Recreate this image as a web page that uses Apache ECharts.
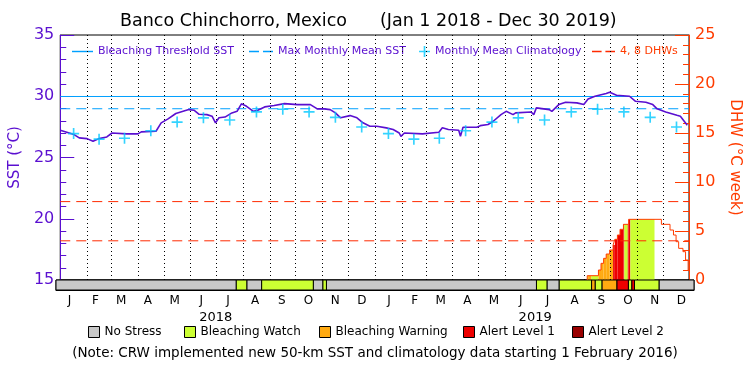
<!DOCTYPE html>
<html><head><meta charset="utf-8">
<script src="https://cdn.jsdelivr.net/npm/echarts@6/dist/echarts.min.js"></script>
<style>html,body{margin:0;padding:0;background:#fff}#c{width:750px;height:375px}</style>
</head><body><div id="c"></div>
<script>
// ---- data (x = day index counted from Jan 1 2018) ----
const sstDays = [0,16,22,31,38,45,54,60,77,90,94,111,117,125,134,149,155,161,170,176,180,184,191,199,205,210,216,224,229,237,248,260,275,290,298,306,313,319,325,336,344,351,359,367,378,386,393,395,399,420,439,443,450,462,464,467,483,487,496,502,511,517,525,528,546,549,552,567,570,578,586,599,607,612,620,633,637,645,660,667,679,687,692,702,715,719,727];
const sstValues = [27.22,26.87,26.6,26.54,26.32,26.54,26.68,27.0,26.93,26.93,27.09,27.14,27.83,28.15,28.59,28.91,28.86,28.53,28.5,28.37,27.83,28.24,28.3,28.64,28.77,29.38,29.18,28.77,28.86,29.13,29.24,29.4,29.32,29.32,28.97,28.97,28.91,28.64,28.24,28.42,28.24,27.83,27.55,27.55,27.42,27.28,27.0,26.73,27.0,26.93,27.06,27.42,27.28,27.22,26.73,27.47,27.47,27.6,27.69,27.96,28.5,28.77,28.5,28.64,28.72,28.5,29.05,28.91,28.77,29.32,29.51,29.46,29.32,29.78,30.0,30.22,30.33,30.08,30.0,29.59,29.51,29.32,28.97,28.72,28.45,28.37,27.63];
const monthLetters = ['J','F','M','A','M','J','J','A','S','O','N','D'];
const climValues = [26.95,26.5,26.57,27.18,27.89,28.24,28.06,28.72,28.94,28.72,28.28,27.49];
const years = [2018, 2019];
const mmmSST = 28.98;
const thresholdSST = 29.98;
const dhwLevels = [4, 8];
const dhwStart = [611,624,627,630,633,637,641,643,646,649,653,659,697,707,711,714,717,722,725,728];
const dhwValues = [0.44,1.02,1.7,2.21,2.65,3.06,3.57,4.15,4.59,5.17,5.68,6.19,5.68,5.1,4.59,3.91,3.23,2.89,2.04,1.02];
const stressStart = [0,206,218,235,294,305,309,549,561,575,612,616,624,641,654,658,661,689];
const stressEnd   = [206,218,235,294,305,309,549,561,575,612,616,624,641,654,658,661,689,729];
const stressLevel = [0,1,0,1,0,1,0,1,0,1,2,1,2,3,1,3,1,0];
const levelNames = ['No Stress','Bleaching Watch','Bleaching Warning','Alert Level 1','Alert Level 2'];
const endDay = 729;

// ---- styles ----
const levelColors = ['#c8c8c8','#ccff33','#ffaa11','#ee0000','#990000'];
const PURPLE = '#5a0fd0', ORANGE = '#ff3c00', CYAN = '#00c8ff', BLUE = '#00a0ff', RED = '#ff2a00';
const FONT = 'DejaVu Sans';

function dayOf(y, m, d) { return (Date.UTC(y, m, d) - Date.UTC(2018, 0, 1)) / 864e5; }
const monthStarts = [];
for (let i = 0; i <= 24; i++) monthStarts.push(dayOf(2018 + Math.floor(i / 12), i % 12, 1));
const monthMids = [];
for (let i = 0; i < 24; i++) monthMids.push((monthStarts[i] + monthStarts[i + 1]) / 2);
const yearMids = years.map(y => (dayOf(y, 0, 1) + dayOf(y + 1, 0, 1)) / 2);
const gridLines = monthStarts.filter(d => d > 0 && d < endDay);

const sstData = sstDays.map((d, i) => [d, sstValues[i]]);
const climData = monthMids.map((d, i) => [d, climValues[i % 12]]);

const dhwLine = [[dhwStart[0], 0]].concat(dhwStart.map((d, i) => [d, dhwValues[i]]), [[endDay, dhwValues[dhwValues.length - 1]]]);
const dhwFill = [];
dhwStart.forEach((s, i) => {
  const e = i + 1 < dhwStart.length ? dhwStart[i + 1] : endDay;
  stressStart.forEach((ss, j) => {
    const a = Math.max(s, ss), b = Math.min(e, stressEnd[j]);
    if (b > a && stressLevel[j] > 0) dhwFill.push([a, b, dhwValues[i], stressLevel[j]]);
  });
});

const plusPath = 'path://M8.5,0h3v8.5h8.5v3h-8.5v8.5h-3v-8.5h-8.5v-3h8.5z';
const solidIcon = 'path://M0,0h22v1.5h-22z';
const dashIcon = 'path://M0,0h10v1.5h-10z M14,0h10v1.5h-10z';

const stressSeries = levelNames.map((name, lv) => ({
  type: 'custom', name: name, xAxisIndex: 1, yAxisIndex: 2,
  itemStyle: { color: levelColors[lv] },
  silent: true,
  data: stressStart.map((s, j) => [s, stressEnd[j], stressLevel[j]]).filter(r => r[2] === lv),
  encode: { x: [0, 1] },
  renderItem: function (params, api) {
    const p0 = api.coord([api.value(0), 1]);
    const p1 = api.coord([api.value(1), 0]);
    return { type: 'rect', shape: { x: p0[0], y: p0[1], width: p1[0] - p0[0], height: p1[1] - p0[1] },
      style: { fill: levelColors[lv], stroke: '#000', lineWidth: 1 } };
  }
}));

const topLegend = (name, icon, left, w, color) => ({
  data: [{ name: name, icon: icon }], left: left, top: 46, padding: 0, itemWidth: w, itemHeight: 12, selectedMode: false,
  textStyle: { color: color, fontSize: 11, fontFamily: FONT }
});
const stressLegend = (i, left) => ({
  data: [levelNames[i]], left: left, top: 326, padding: 0, itemWidth: 11, itemHeight: 11, icon: 'rect',
  selectedMode: false, itemStyle: { borderColor: '#000', borderWidth: 1 },
  textStyle: { color: '#000', fontSize: 12, fontFamily: FONT }
});
const dhwRefLine = v => ({ type: 'line', name: '4, 8 DHWs', xAxisIndex: 0, yAxisIndex: 1, symbol: 'none', silent: true, z: 3,
  itemStyle: { color: RED }, lineStyle: { color: RED, width: 1, type: [10, 6] }, data: [[0, v], [endDay, v]] });

const chart = echarts.init(document.getElementById('c'));
chart.setOption({
  animation: false,
  textStyle: { fontFamily: FONT },
  title: [
    { text: 'Banco Chinchorro, Mexico', left: 120, top: 12, padding: 0, textStyle: { fontSize: 17.5, fontWeight: 'normal', color: '#000', fontFamily: FONT } },
    { text: '(Jan 1 2018 - Dec 30 2019)', left: 380, top: 12, padding: 0, textStyle: { fontSize: 17.5, fontWeight: 'normal', color: '#000', fontFamily: FONT } },
    { text: '(Note: CRW implemented new 50-km SST and climatology data starting 1 February 2016)', left: 'center', top: 346, padding: 0, textStyle: { fontSize: 13.5, fontWeight: 'normal', color: '#000', fontFamily: FONT } }
  ],
  legend: [
    topLegend('Bleaching Threshold SST', solidIcon, 72, 21, PURPLE),
    topLegend('Max Monthly Mean SST', dashIcon, 249, 24, PURPLE),
    topLegend('Monthly Mean Climatology', plusPath, 419, 11, PURPLE),
    topLegend('4, 8 DHWs', dashIcon, 592, 23, ORANGE),
    stressLegend(0, 88), stressLegend(1, 184), stressLegend(2, 319), stressLegend(3, 463), stressLegend(4, 572)
  ],
  grid: [
    { left: 56, right: 56, top: 35, height: 245, show: true, borderColor: '#000', borderWidth: 1, backgroundColor: 'transparent' },
    { left: 56, right: 56, top: 280, height: 10, show: true, borderColor: '#000', borderWidth: 1, backgroundColor: 'transparent' }
  ],
  xAxis: [
    { type: 'value', gridIndex: 0, min: 0, max: endDay, axisLine: { show: false }, axisTick: { show: false }, axisLabel: { show: false }, splitLine: { show: false } },
    { type: 'value', gridIndex: 1, min: 0, max: endDay, axisLine: { show: true, lineStyle: { color: '#000' } }, axisTick: { show: false }, splitLine: { show: false },
      axisLabel: { customValues: monthMids, margin: 5, fontSize: 12, color: '#000',
        formatter: v => { const i = monthMids.findIndex(m => Math.abs(m - v) < 0.01); return i >= 0 ? monthLetters[i % 12] : ''; } } },
    { type: 'value', gridIndex: 1, min: 0, max: endDay, position: 'bottom', offset: 16, axisLine: { show: false }, axisTick: { show: false }, splitLine: { show: false },
      axisLabel: { customValues: yearMids, margin: 5, fontSize: 13, color: '#000',
        formatter: v => { const i = yearMids.findIndex(m => Math.abs(m - v) < 0.01); return i >= 0 ? String(years[i]) : ''; } } }
  ],
  yAxis: [
    { type: 'value', gridIndex: 0, min: 15, max: 35, interval: 5, position: 'left',
      name: 'SST (°C)', nameLocation: 'middle', nameGap: 31, nameRotate: 90, nameTextStyle: { color: PURPLE, fontSize: 15, fontFamily: FONT },
      axisLine: { show: true, lineStyle: { color: PURPLE, width: 1 } },
      axisTick: { show: true, inside: true, length: 14, lineStyle: { color: PURPLE } },
      minorTick: { show: true, splitNumber: 5, length: 6, lineStyle: { color: PURPLE } },
      axisLabel: { color: PURPLE, fontSize: 16, margin: 6 }, splitLine: { show: false } },
    { type: 'value', gridIndex: 0, min: 0, max: 25, interval: 5, position: 'right',
      name: 'DHW (°C week)', nameLocation: 'middle', nameGap: 38, nameRotate: -90, nameTextStyle: { color: ORANGE, fontSize: 15, fontFamily: FONT },
      axisLine: { show: true, lineStyle: { color: ORANGE, width: 1 } },
      axisTick: { show: true, inside: true, length: 14, lineStyle: { color: ORANGE } },
      minorTick: { show: true, splitNumber: 5, length: 6, lineStyle: { color: ORANGE } },
      axisLabel: { color: ORANGE, fontSize: 16, margin: 6 }, splitLine: { show: false } },
    { type: 'value', gridIndex: 1, min: 0, max: 1, show: false }
  ],
  series: [
    { type: 'custom', xAxisIndex: 0, yAxisIndex: 1, silent: true, z: 1,
      data: dhwFill, encode: { x: [0, 1], y: 2 },
      renderItem: function (params, api) {
        const p0 = api.coord([api.value(0), api.value(2)]);
        const p1 = api.coord([api.value(1), 0]);
        return { type: 'rect', shape: { x: p0[0], y: p0[1], width: p1[0] - p0[0], height: p1[1] - p0[1] },
          style: { fill: levelColors[api.value(3)] } };
      } },
    { type: 'line', name: 'DHW', xAxisIndex: 0, yAxisIndex: 1, step: 'end', symbol: 'none', silent: true, z: 2,
      lineStyle: { color: ORANGE, width: 1 }, data: dhwLine },
    { type: 'line', name: 'Bleaching Threshold SST', xAxisIndex: 0, yAxisIndex: 0, symbol: 'none', silent: true, z: 3,
      itemStyle: { color: BLUE }, lineStyle: { color: BLUE, width: 1 }, data: [[0, thresholdSST], [endDay, thresholdSST]] },
    { type: 'line', name: 'Max Monthly Mean SST', xAxisIndex: 0, yAxisIndex: 0, symbol: 'none', silent: true, z: 3,
      itemStyle: { color: BLUE }, lineStyle: { color: BLUE, width: 1, type: [10, 6] }, data: [[0, mmmSST], [endDay, mmmSST]] },
    dhwRefLine(dhwLevels[0]), dhwRefLine(dhwLevels[1]),
    { type: 'line', name: 'gridlines', xAxisIndex: 0, yAxisIndex: 0, data: [], silent: true,
      markLine: { silent: true, symbol: 'none', label: { show: false }, lineStyle: { color: '#000', width: 1, type: [1, 3] },
        data: gridLines.map(d => ({ xAxis: d })) } },
    { type: 'line', name: 'SST', xAxisIndex: 0, yAxisIndex: 0, symbol: 'none', silent: true, z: 5,
      lineStyle: { color: PURPLE, width: 1.6 }, data: sstData },
    { type: 'scatter', name: 'Monthly Mean Climatology', xAxisIndex: 0, yAxisIndex: 0, symbol: plusPath, symbolSize: 11, silent: true, z: 6,
      itemStyle: { color: CYAN }, data: climData }
  ].concat(stressSeries)
});
</script></body></html>
